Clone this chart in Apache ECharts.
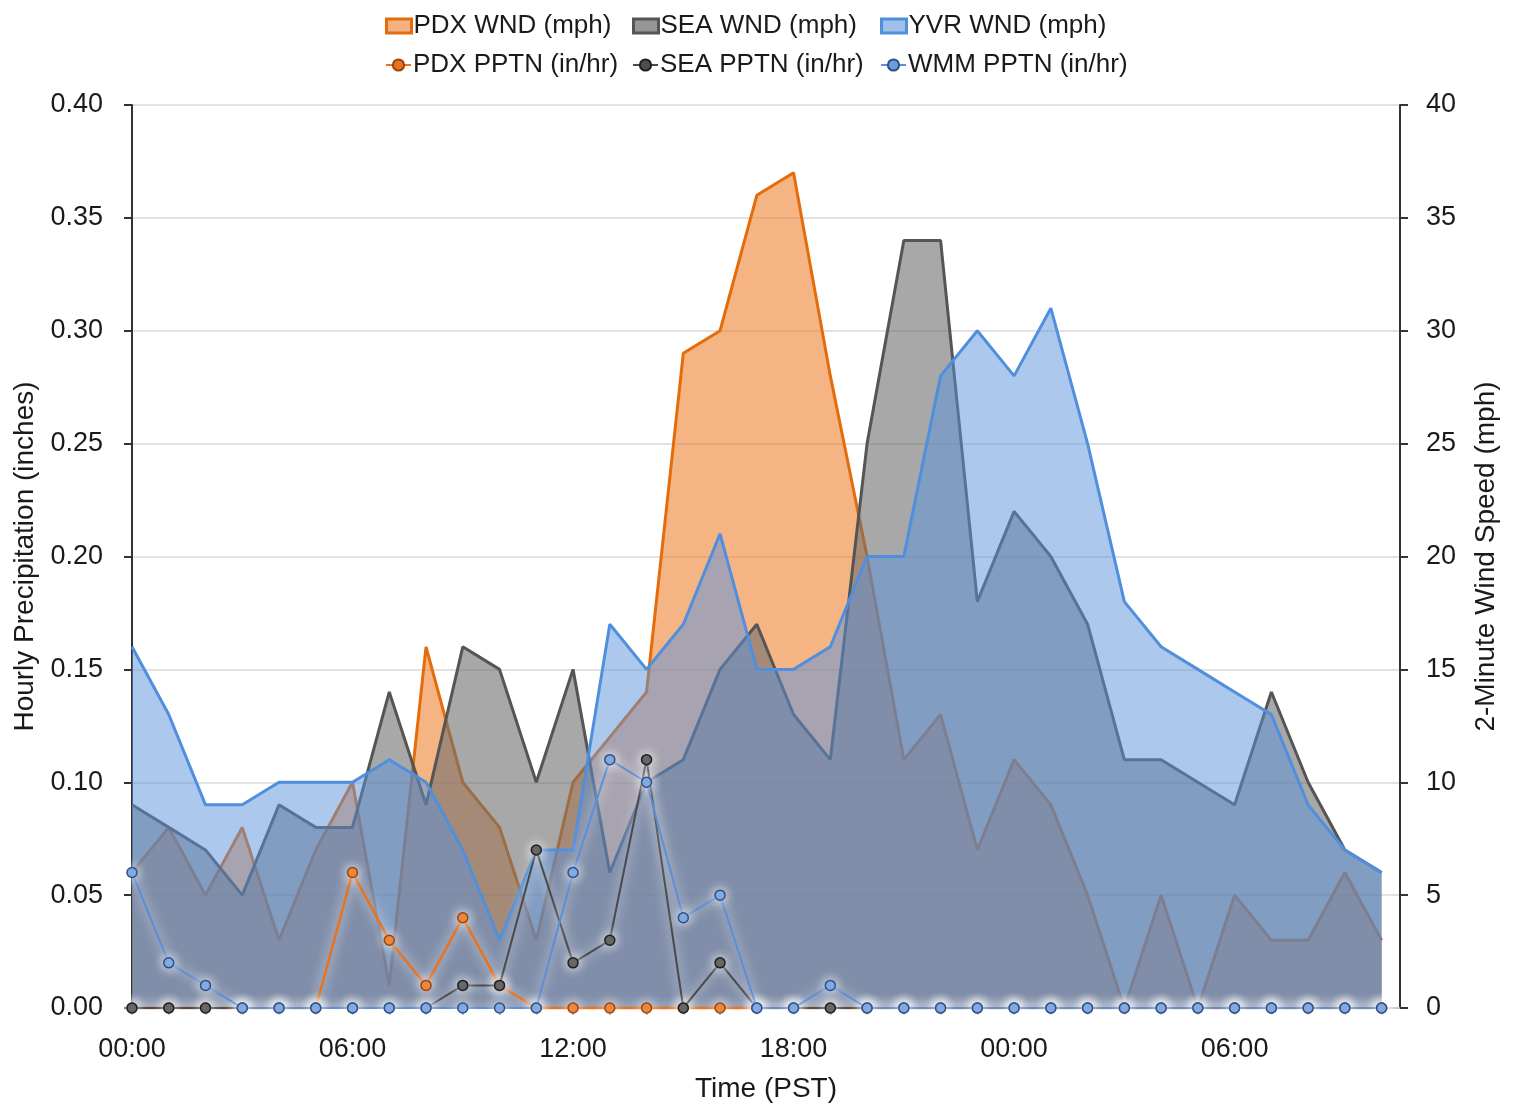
<!DOCTYPE html>
<html>
<head>
<meta charset="utf-8">
<script src="https://cdn.jsdelivr.net/npm/echarts@6/dist/echarts.min.js"></script>
<style>
html,body{margin:0;padding:0;background:#ffffff;}
#chart{width:1517px;height:1108px;}
</style>
</head>
<body>
<div id="chart"></div>
<script>
// ---------------- DATA ----------------
const hourLabels = [
  '00:00','01:00','02:00','03:00','04:00','05:00','06:00','07:00','08:00','09:00',
  '10:00','11:00','12:00','13:00','14:00','15:00','16:00','17:00','18:00','19:00',
  '20:00','21:00','22:00','23:00','00:00','01:00','02:00','03:00','04:00','05:00',
  '06:00','07:00','08:00','09:00','10:00'
];
const xTickLabels = ['00:00','06:00','12:00','18:00','00:00','06:00'];

// 2-minute wind speed (mph)
const pdxWnd = [6, 8, 5, 8, 3, 7, 10, 1, 16, 10, 8, 3, 10, 12, 14, 29, 30, 36, 37, 28, 20, 11, 13, 7, 11, 9, 5, 0, 5, 0, 5, 3, 3, 6, 3];
const seaWnd = [9, 8, 7, 5, 9, 8, 8, 14, 9, 16, 15, 10, 15, 6, 10, 11, 15, 17, 13, 11, 25, 34, 34, 18, 22, 20, 17, 11, 11, 10, 9, 14, 10, 7, 6];
const yvrWnd = [16, 13, 9, 9, 10, 10, 10, 11, 10, 7, 3, 7, 7, 17, 15, 17, 21, 15, 15, 16, 20, 20, 28, 30, 28, 31, 25, 18, 16, 15, 14, 13, 9, 7, 6];

// Hourly precipitation (in/hr)
const pdxPptn = [0, 0, 0, 0, 0, 0, 0.06, 0.03, 0.01, 0.04, 0.01, 0, 0, 0, 0, 0, 0, 0, 0, 0, 0, 0, 0, 0, 0, 0, 0, 0, 0, 0, 0, 0, 0, 0, 0];
const seaPptn = [0, 0, 0, 0, 0, 0, 0, 0, 0, 0.01, 0.01, 0.07, 0.02, 0.03, 0.11, 0, 0.02, 0, 0, 0, 0, 0, 0, 0, 0, 0, 0, 0, 0, 0, 0, 0, 0, 0, 0];
const wmmPptn = [0.06, 0.02, 0.01, 0, 0, 0, 0, 0, 0, 0, 0, 0, 0.06, 0.11, 0.10, 0.04, 0.05, 0, 0, 0.01, 0, 0, 0, 0, 0, 0, 0, 0, 0, 0, 0, 0, 0, 0, 0];

const names = {
  pdxW: 'PDX WND (mph)', seaW: 'SEA WND (mph)', yvrW: 'YVR WND (mph)',
  pdxP: 'PDX PPTN (in/hr)', seaP: 'SEA PPTN (in/hr)', wmmP: 'WMM PPTN (in/hr)'
};

// ---------------- STYLE ----------------
const FONT = "'Liberation Sans', Arial, Helvetica, sans-serif";
const TXT = '#1a1a1a';
const C = {
  pdxLine: '#E46C0A', pdxFill: 'rgb(238,130,50)',
  seaLine: '#555555', seaFill: 'rgb(110,110,110)',
  yvrLine: '#4F8FDD', yvrFill: 'rgb(91,146,220)',
  pdxMk: '#E8731F', pdxMkB: '#9a4510',
  seaMk: '#4d4d4d', seaMkB: '#1f1f1f',
  wmmMk: '#6C9CDB', wmmMkB: '#2f4f8a', wmmLine: '#5C8FD8'
};

const toXY = arr => arr.map((v, i) => [i, v]);

function areaSeries(name, data, line, fill, op, z) {
  return {
    name, type: 'line', yAxisIndex: 1, data: toXY(data), z,
    symbol: 'none', smooth: false,
    lineStyle: { color: line, width: 3 },
    itemStyle: { color: line },
    areaStyle: { color: fill, opacity: op },
    emphasis: { disabled: true }
  };
}
function pptnSeries(name, data, line, mk, mkB, w, z) {
  return {
    name, type: 'line', yAxisIndex: 0, data: toXY(data), z,
    symbol: 'circle', symbolSize: 10, showAllSymbol: true, clip: false,
    lineStyle: { color: line, width: w, shadowColor: 'rgba(255,255,255,1)', shadowBlur: 12 },
    itemStyle: { color: mk, borderColor: mkB, borderWidth: 1.5, shadowColor: 'rgba(255,255,255,1)', shadowBlur: 12 },
    emphasis: { disabled: true }
  };
}

function legendAt(left, top, item) {
  return {
    left, top, padding: 0, itemWidth: 25, itemHeight: 14, itemGap: 0,
    selectedMode: false,
    textStyle: { fontFamily: FONT, fontSize: 26, color: TXT, padding: [0, 0, 0, -3] },
    data: [item]
  };
}
const rectItem = (name, fill, line) => ({
  name, icon: 'rect',
  itemStyle: { color: fill, borderColor: line, borderWidth: 3, opacity: 1 }
});

const chart = echarts.init(document.getElementById('chart'), null, { renderer: 'canvas' });
chart.setOption({
  animation: false,
  backgroundColor: '#ffffff',
  textStyle: { fontFamily: FONT },
  legend: [
    legendAt(385, 13, rectItem(names.pdxW, 'rgba(244,178,130,1)', C.pdxLine)),
    legendAt(632, 13, rectItem(names.seaW, 'rgba(150,150,150,1)', C.seaLine)),
    legendAt(880, 13, rectItem(names.yvrW, 'rgba(160,192,236,1)', C.yvrLine)),
    legendAt(385, 52, { name: names.pdxP }),
    legendAt(632, 52, { name: names.seaP }),
    legendAt(880, 52, { name: names.wmmP })
  ],
  grid: { left: 132, right: 117, top: 105, bottom: 98, containLabel: false },
  xAxis: {
    type: 'value', min: 0, max: 34.5, interval: 1,
    name: 'Time (PST)', nameLocation: 'middle', nameGap: 67,
    nameTextStyle: { fontFamily: FONT, fontSize: 28, color: TXT },
    axisLine: { show: true, onZero: false, lineStyle: { color: '#bfbfbf', width: 1.5 } },
    axisTick: { show: true, length: 7, lineStyle: { color: '#7f7f7f', width: 1.5 } },
    axisLabel: {
      fontFamily: FONT, fontSize: 27, color: TXT, margin: 28,
      showMinLabel: true, showMaxLabel: false,
      formatter: v => (Number.isInteger(v) && v % 6 === 0) ? (xTickLabels[v / 6] || '') : ''
    },
    splitLine: { show: false }
  },
  yAxis: [
    {
      type: 'value', min: 0, max: 0.4, interval: 0.05, position: 'left',
      name: 'Hourly Precipitation (inches)', nameLocation: 'middle', nameGap: 90,
      nameTextStyle: { fontFamily: FONT, fontSize: 28, color: TXT },
      axisLine: { show: true, lineStyle: { color: '#333333', width: 2 } },
      axisTick: { show: true, length: 8, lineStyle: { color: '#333333', width: 2 } },
      axisLabel: { fontFamily: FONT, fontSize: 27, color: TXT, margin: 29, formatter: v => v.toFixed(2) },
      splitLine: { show: true, lineStyle: { color: '#d9d9d9', width: 1.5 } }
    },
    {
      type: 'value', min: 0, max: 40, interval: 5, position: 'right',
      name: '2-Minute Wind Speed (mph)', nameLocation: 'middle', nameGap: 72,
      nameTextStyle: { fontFamily: FONT, fontSize: 28, color: TXT },
      axisLine: { show: true, lineStyle: { color: '#333333', width: 2 } },
      axisTick: { show: true, length: 8, lineStyle: { color: '#333333', width: 2 } },
      axisLabel: { fontFamily: FONT, fontSize: 27, color: TXT, margin: 26 },
      splitLine: { show: false }
    }
  ],
  series: [
    areaSeries(names.pdxW, pdxWnd, C.pdxLine, C.pdxFill, 0.6, 2),
    areaSeries(names.seaW, seaWnd, C.seaLine, C.seaFill, 0.6, 3),
    areaSeries(names.yvrW, yvrWnd, C.yvrLine, C.yvrFill, 0.5, 4),
    pptnSeries(names.pdxP, pdxPptn, C.pdxMk, C.pdxMk, C.pdxMkB, 2.5, 6),
    pptnSeries(names.seaP, seaPptn, '#4a4a4a', C.seaMk, C.seaMkB, 2, 7),
    pptnSeries(names.wmmP, wmmPptn, C.wmmLine, C.wmmMk, C.wmmMkB, 2, 8)
  ]
});
</script>
</body>
</html>
